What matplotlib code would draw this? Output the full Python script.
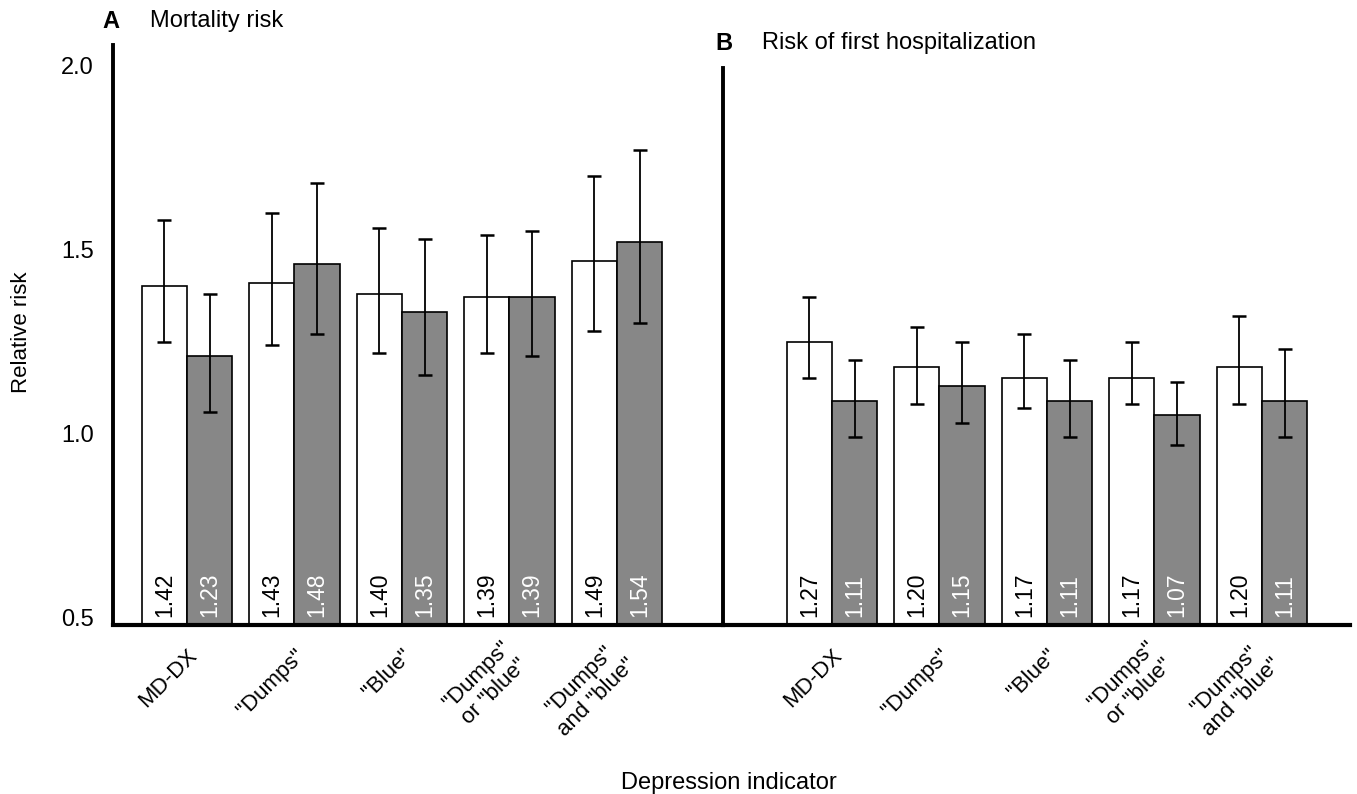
import matplotlib
matplotlib.use("Agg")
import matplotlib.pyplot as plt
import matplotlib.transforms as mtransforms
import numpy as np

plt.rcParams['font.family'] = ['Liberation Sans', 'DejaVu Sans']

# Depression indicators (same for both panels)
indicators = ['MD-DX', '"Dumps"', '"Blue"', '"Dumps"\nor "blue"', '"Dumps"\nand "blue"']

# Panel A: mortality risk (white = first series, gray = second series)
mort_white = [1.42, 1.43, 1.40, 1.39, 1.49]
mort_white_lo = [1.27, 1.26, 1.24, 1.24, 1.30]
mort_white_hi = [1.60, 1.62, 1.58, 1.56, 1.72]
mort_gray = [1.23, 1.48, 1.35, 1.39, 1.54]
mort_gray_lo = [1.08, 1.29, 1.18, 1.23, 1.32]
mort_gray_hi = [1.40, 1.70, 1.55, 1.57, 1.79]

# Panel B: risk of first hospitalization
hosp_white = [1.27, 1.20, 1.17, 1.17, 1.20]
hosp_white_lo = [1.17, 1.10, 1.09, 1.10, 1.10]
hosp_white_hi = [1.39, 1.31, 1.29, 1.27, 1.34]
hosp_gray = [1.11, 1.15, 1.11, 1.07, 1.11]
hosp_gray_lo = [1.01, 1.05, 1.01, 0.99, 1.01]
hosp_gray_hi = [1.22, 1.27, 1.22, 1.16, 1.25]

GRAY = '#878787'
BASE = 0.5
YTOP = 2.076
BAR_W = 0.42

fig = plt.figure(figsize=(13.57, 7.94), dpi=100)

ax_a = fig.add_axes([113/1357, 169/794, 610/1357, 580/794])
ax_b = fig.add_axes([723/1357, 169/794, 627/1357, 580/794])


def draw_panel(ax, white, wlo, whi, gray, glo, ghi):
    x = np.arange(len(white))
    for vals, lo, hi, offs, fc, tc in [(white, wlo, whi, -BAR_W/2, 'white', 'black'),
                                       (gray, glo, ghi, BAR_W/2, GRAY, 'white')]:
        vals = np.array(vals)
        pos = x + offs
        ax.bar(pos, vals - BASE, bottom=BASE, width=BAR_W, color=fc,
               edgecolor='black', linewidth=1.2, zorder=2)
        yerr = [vals - np.array(lo), np.array(hi) - vals]
        ax.errorbar(pos, vals, yerr=yerr, fmt='none', ecolor='black',
                    elinewidth=1.3, capsize=4.8, capthick=1.8, zorder=3)
        for p, v in zip(pos, vals):
            ax.annotate(f"{v:.2f}", (p, BASE), xytext=(0, 6),
                        textcoords='offset points', rotation=90,
                        ha='center', va='bottom', fontsize=16.5, color=tc,
                        zorder=4)

    ax.set_ylim(BASE, YTOP)
    ax.set_xticks(x)
    ax.set_xticklabels(indicators, rotation=45, ha='right', va='center',
                       rotation_mode='anchor', multialignment='center',
                       fontsize=16)
    ax.tick_params(axis='x', length=0, pad=20)
    shift = mtransforms.ScaledTranslation(0.07, 0, fig.dpi_scale_trans)
    for lab in ax.get_xticklabels():
        lab.set_transform(lab.get_transform() + shift)
    for s in ['top', 'right']:
        ax.spines[s].set_visible(False)
    ax.spines['bottom'].set_linewidth(3)
    ax.spines['left'].set_linewidth(2.8)
    ax.patch.set_alpha(0)


draw_panel(ax_a, mort_white, mort_white_lo, mort_white_hi,
           mort_gray, mort_gray_lo, mort_gray_hi)
draw_panel(ax_b, hosp_white, hosp_white_lo, hosp_white_hi,
           hosp_gray, hosp_gray_lo, hosp_gray_hi)

ax_a.set_xlim(-0.688, 4.986)
ax_b.set_xlim(-1.014, 4.819)

# y axis only labelled on panel A
ax_a.set_yticks([0.5, 1.0, 1.5, 2.0])
ax_a.set_yticklabels(['0.5', '1.0', '1.5', '2.0'], fontsize=17)
ax_a.tick_params(axis='y', length=0, pad=14)
up = mtransforms.ScaledTranslation(0, 0.07, fig.dpi_scale_trans)
for lab in ax_a.get_yticklabels():
    lab.set_transform(lab.get_transform() + up)
ax_a.set_ylabel('Relative risk', fontsize=16)
ax_a.yaxis.set_label_coords(-0.133, 0.505)

ax_b.set_yticks([])
ax_b.spines['left'].set_bounds(BASE, 2.014)

# panel titles
fig.text(111/1357, 1 - 21/794, 'A', fontsize=17, fontweight='bold',
         ha='center', va='center')
fig.text(150/1357, 1 - 21/794, 'Mortality risk', fontsize=17,
         ha='left', va='center')
fig.text(724/1357, 1 - 43/794, 'B', fontsize=17, fontweight='bold',
         ha='center', va='center')
fig.text(762/1357, 1 - 43/794, 'Risk of first hospitalization', fontsize=17,
         ha='left', va='center')

fig.text(729/1357, 1 - 783/794, 'Depression indicator', fontsize=17,
         ha='center', va='center')

fig.savefig('out.png', dpi=100)
